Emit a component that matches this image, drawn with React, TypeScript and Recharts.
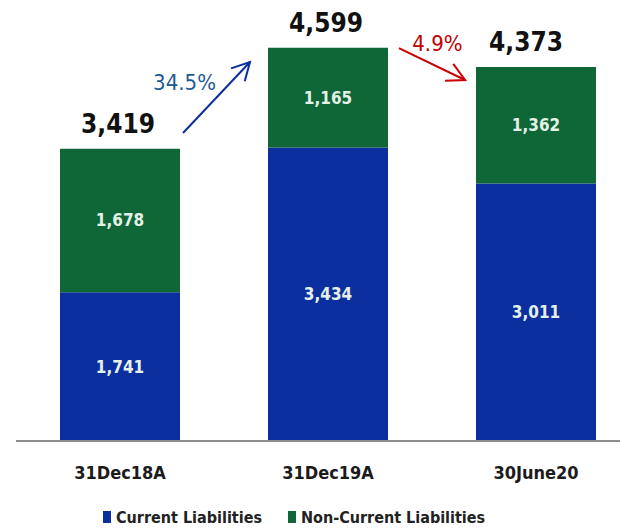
import React from 'react';
import { BarChart, Bar, XAxis, YAxis, LabelList, Legend, ReferenceLine } from 'recharts';

// ---- data ----
const categories = ['31Dec18A', '31Dec19A', '30June20'];
const currentLiabilities = [1741, 3434, 3011];
const nonCurrentLiabilities = [1678, 1165, 1362];
const totals = [3419, 4599, 4373];
const seriesNames = ['Current Liabilities', 'Non-Current Liabilities'];
const changeLabels = ['34.5%', '4.9%'];
// arrows in (category index, value) units; category i is centred on i
const arrowFromX = [0.303, 1.341];
const arrowFromY = [3602, 4596];
const arrowToX = [0.625, 1.659];
const arrowToY = [4433, 4222];

// ---- styles ----
const BLUE = '#0c2f9f';
const GREEN = '#0f6637';
const COND = "'DejaVu Sans Condensed', 'DejaVu Sans', sans-serif";
const arrowColors = ['#0c2f9f', '#cc0000'];
const changeColors = ['#1d5b98', '#c40000'];
const changeOffsets = [
  { dx: 1.5, dy: -43 },
  { dx: 38.5, dy: 3 },
];
const totalDx = [-2, -2, -10];

const data = categories.map((c, i) => ({
  name: c,
  idx: i,
  current: currentLiabilities[i],
  nonCurrent: nonCurrentLiabilities[i],
  total: totals[i],
}));

const fmt = (v: number) => v.toLocaleString('en-US');

const InnerLabel = (props: any) => {
  const { x, y, width, height, value } = props;
  return (
    <text
      x={x + width / 2}
      y={y + height / 2}
      dy={6}
      textAnchor="middle"
      fill="#e4f1e6"
      fontFamily={COND}
      fontWeight="bold"
      fontSize={17}
    >
      {fmt(value)}
    </text>
  );
};

const TotalLabel = (props: any) => {
  const { x, y, width, index } = props;
  return (
    <text
      x={x + width / 2 + totalDx[index]}
      y={y - 16}
      textAnchor="middle"
      fill="#111"
      fontFamily={COND}
      fontWeight="bold"
      fontSize={26}
    >
      {fmt(totals[index])}
    </text>
  );
};

const makeArrow = (i: number) => (props: any) => {
  const { x1, y1, x2, y2 } = props;
  const ang = Math.atan2(y2 - y1, x2 - x1);
  const len = 20;
  const spread = (28 * Math.PI) / 180;
  const hx1 = x2 - len * Math.cos(ang - spread);
  const hy1 = y2 - len * Math.sin(ang - spread);
  const hx2 = x2 - len * Math.cos(ang + spread);
  const hy2 = y2 - len * Math.sin(ang + spread);
  const c = arrowColors[i];
  return (
    <g>
      <line x1={x1} y1={y1} x2={x2} y2={y2} stroke={c} strokeWidth={2} />
      <polyline
        points={`${hx1},${hy1} ${x2},${y2} ${hx2},${hy2}`}
        fill="none"
        stroke={c}
        strokeWidth={2}
      />
      <text
        x={x1 + changeOffsets[i].dx}
        y={y1 + changeOffsets[i].dy}
        textAnchor="middle"
        fill={changeColors[i]}
        fontFamily={COND}
        fontSize={22}
      >
        {changeLabels[i]}
      </text>
    </g>
  );
};

const CategoryTick = (props: any) => {
  const { x, y, payload } = props;
  return (
    <text
      x={x}
      y={y}
      dy={30}
      textAnchor="middle"
      fill="#1b1b1b"
      fontFamily={COND}
      fontWeight="bold"
      fontSize={18}
    >
      {payload.value}
    </text>
  );
};

const LegendContent = () => (
  <div style={{ display: 'flex', alignItems: 'center', marginLeft: 103, height: 30 }}>
    {seriesNames.map((n, i) => (
      <div key={n} style={{ display: 'flex', alignItems: 'center', marginRight: 26 }}>
        <span
          style={{
            display: 'inline-block',
            width: 8,
            height: 12,
            background: i === 0 ? BLUE : GREEN,
            marginRight: 5,
          }}
        />
        <span
          style={{
            fontFamily: COND,
            fontWeight: 'bold',
            fontSize: 16,
            color: '#222',
          }}
        >
          {n}
        </span>
      </div>
    ))}
  </div>
);

export default function App() {
  return (
    <div
      style={{
        position: 'absolute',
        left: 0,
        top: 0,
        width: 620,
        height: 532,
        overflow: 'hidden',
        background: '#fff',
      }}
    >
      <BarChart
        width={640}
        height={532}
        data={data}
        margin={{ top: 13.5, right: 0, bottom: 0, left: 16 }}
        barCategoryGap={44}
      >
        <YAxis hide domain={[0, 5000]} />
        <XAxis
          dataKey="name"
          height={61}
          axisLine={{ stroke: '#8c8c8c', strokeWidth: 2 }}
          tickLine={false}
          tick={<CategoryTick />}
          interval={0}
        />
        <XAxis
          xAxisId="pos"
          dataKey="idx"
          type="number"
          domain={[-0.5, 2.5]}
          hide
          allowDataOverflow
        />
        <Legend
          verticalAlign="bottom"
          height={30}
          wrapperStyle={{ left: 0, top: 502, width: 620 }}
          content={<LegendContent />}
        />
        <Bar dataKey="current" stackId="a" fill={BLUE} isAnimationActive={false}>
          <LabelList dataKey="current" content={<InnerLabel />} />
        </Bar>
        <Bar dataKey="nonCurrent" stackId="a" fill={GREEN} isAnimationActive={false}>
          <LabelList dataKey="nonCurrent" content={<InnerLabel />} />
          <LabelList dataKey="total" content={<TotalLabel />} />
        </Bar>
        {changeLabels.map((_, i) => (
          <ReferenceLine
            key={i}
            xAxisId="pos"
            segment={[
              { x: arrowFromX[i], y: arrowFromY[i] },
              { x: arrowToX[i], y: arrowToY[i] },
            ]}
            ifOverflow="visible"
            shape={makeArrow(i)}
          />
        ))}
      </BarChart>
    </div>
  );
}
